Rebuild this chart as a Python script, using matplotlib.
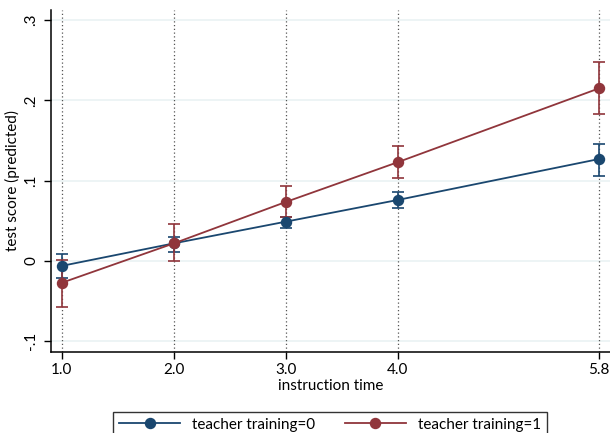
import matplotlib.pyplot as plt
from matplotlib.ticker import FixedLocator

# predicted test score by instruction time, two groups
times = [1.0, 2.0, 3.0, 4.0, 5.8]
tick_labels = ["1.0", "2.0", "3.0", "4.0", "5.8"]

fit0 = [-0.006, 0.022, 0.049, 0.076, 0.127]
lo0 = [-0.021, 0.011, 0.041, 0.066, 0.106]
hi0 = [0.009, 0.030, 0.055, 0.086, 0.146]

fit1 = [-0.027, 0.022, 0.0735, 0.123, 0.215]
lo1 = [-0.057, 0.000, 0.055, 0.103, 0.183]
hi1 = [0.001, 0.046, 0.093, 0.143, 0.248]

yticks = [-0.1, 0, 0.1, 0.2, 0.3]
ytick_labels = ["-.1", "0", ".1", ".2", ".3"]

plt.rcParams['font.family'] = ['Lato', 'DejaVu Sans']

fig = plt.figure(figsize=(6.1, 4.33), dpi=100)
ax = fig.add_axes([0.0836, 0.187, 0.9164, 0.79])

blue = "#1a476f"
red = "#90353b"

for x in times:
    ax.axvline(x, color="#555555", lw=0.9, ls=(0, (1, 2)), zorder=1)
for y in yticks:
    ax.axhline(y, color="#eaf2f3", lw=1.2, zorder=0)

for fit, lo, hi, col, lab in [(fit0, lo0, hi0, blue, "teacher training=0"),
                              (fit1, lo1, hi1, red, "teacher training=1")]:
    err = [[f - l for f, l in zip(fit, lo)], [h - f for f, h in zip(fit, hi)]]
    ax.errorbar(times, fit, yerr=err, fmt="none", ecolor=col, elinewidth=1.2,
                capsize=4.3, capthick=1.2, zorder=3)
    ax.plot(times, fit, color=col, lw=1.3, marker="o", markersize=7.2,
            label=lab, zorder=4)

ax.set_xlim(0.902, 5.898)
ax.set_ylim(-0.1133, 0.3126)
ax.xaxis.set_major_locator(FixedLocator(times))
ax.set_xticklabels(tick_labels)
ax.set_yticks(yticks)
ax.set_yticklabels(ytick_labels, rotation=90, va="center")

for s in ["top", "right"]:
    ax.spines[s].set_visible(False)
for s in ["left", "bottom"]:
    ax.spines[s].set_linewidth(1.1)
ax.tick_params(axis="both", direction="out", length=5, width=1.0,
               labelsize=11, colors="black")
ax.tick_params(axis="x", pad=3)
ax.tick_params(axis="y", pad=4)

ax.set_xlabel("instruction time", fontsize=11, labelpad=1)
ax.set_ylabel("test score (predicted)", fontsize=11, labelpad=3)

leg = fig.legend(loc="upper center", bbox_to_anchor=(330 / 610, 1 - 404 / 433),
                 ncol=2, frameon=True, fancybox=False, fontsize=11,
                 handlelength=4.0, columnspacing=1.9, borderpad=0.4,
                 handletextpad=0.8)
leg.get_frame().set_edgecolor("black")
leg.get_frame().set_linewidth(1.0)

fig.savefig("out.png", dpi=100)
